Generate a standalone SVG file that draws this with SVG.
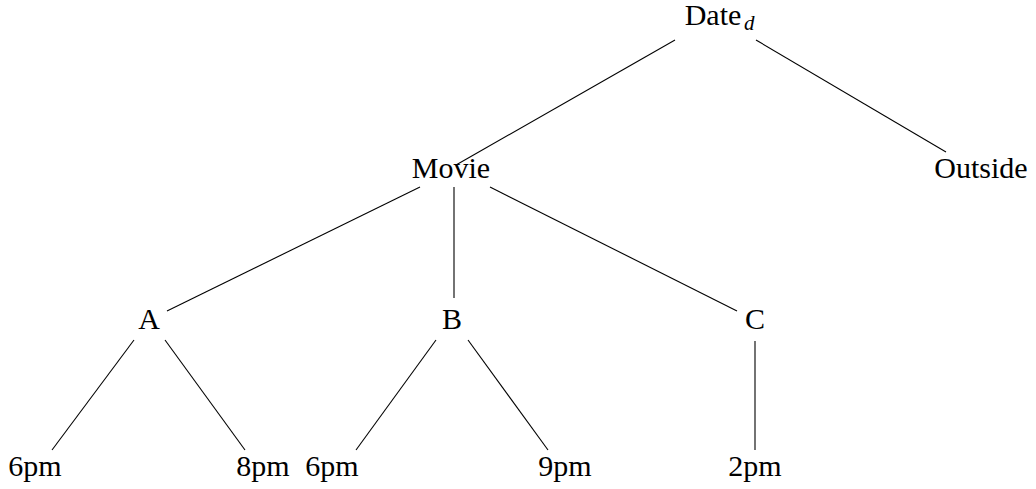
<svg xmlns="http://www.w3.org/2000/svg" width="1036" height="489" viewBox="0 0 1036 489">
<style>
text{font-family:"Liberation Serif","DejaVu Serif",serif;font-size:30px;fill:#000;text-anchor:middle}
.sub{font-style:italic;font-size:21px;text-anchor:start}
line{stroke:#000;stroke-width:1.1}
</style>
<rect width="1036" height="489" fill="#fff"/>
<g id="connectors">
<line x1="675" y1="40" x2="456" y2="165"/>
<line x1="756" y1="40" x2="946" y2="152"/>
<line x1="420" y1="187" x2="167" y2="311"/>
<line x1="454" y1="187" x2="454" y2="298"/>
<line x1="490" y1="187" x2="737" y2="311"/>
<line x1="134" y1="340" x2="52" y2="450"/>
<line x1="165" y1="340" x2="245" y2="450"/>
<line x1="436" y1="340" x2="356" y2="450"/>
<line x1="468" y1="340" x2="548" y2="450"/>
<line x1="755" y1="341" x2="755" y2="450"/>
</g>
<g id="date"><text x="713" y="25">Date</text><text class="sub" x="744" y="30">d</text></g>
<g id="movie"><text x="451" y="178">Movie</text></g>
<g id="outside"><text x="981" y="178">Outside</text></g>
<g id="a"><text x="149" y="329">A</text></g>
<g id="b"><text x="452" y="329">B</text></g>
<g id="c"><text x="755" y="329">C</text></g>
<g id="a6pm"><text x="35" y="476">6pm</text></g>
<g id="a8pm"><text x="263" y="476">8pm</text></g>
<g id="b6pm"><text x="332" y="476">6pm</text></g>
<g id="b9pm"><text x="565" y="476">9pm</text></g>
<g id="c2pm"><text x="755" y="476">2pm</text></g>
</svg>
